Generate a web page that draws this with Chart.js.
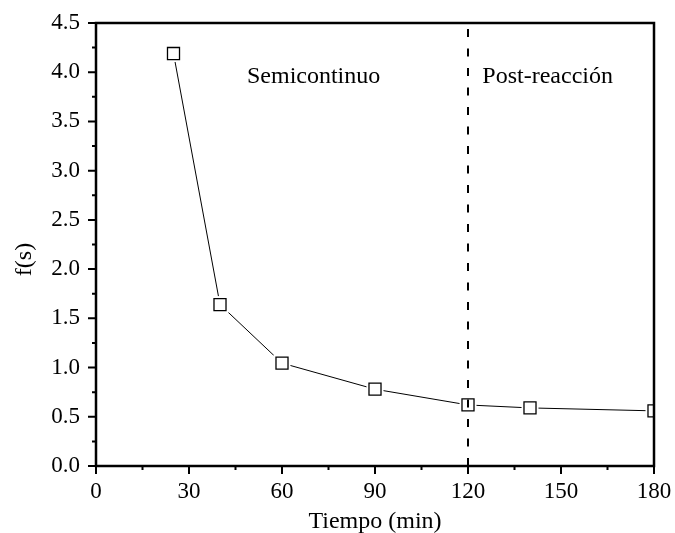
<!DOCTYPE html>
<html>
<head>
<meta charset="utf-8">
<script src="https://cdn.jsdelivr.net/npm/chart.js@4/dist/chart.umd.min.js"></script>
<style>
  html, body { margin: 0; padding: 0; background: #fff; }
  #wrap { width: 675px; height: 533px; }
</style>
</head>
<body>
<div id="wrap"><canvas id="c" width="675" height="533"></canvas></div>
<script>
// ---- data ----
const tiempo = [25, 40, 60, 90, 120, 140, 180];
const fs = [4.19, 1.64, 1.045, 0.78, 0.62, 0.59, 0.56];
const xTicks = [0, 30, 60, 90, 120, 150, 180];
const yTicks = [0, 0.5, 1.0, 1.5, 2.0, 2.5, 3.0, 3.5, 4.0, 4.5];
const dividerX = [120, 120];
const dividerY = [0, 4.5];
const regionLabels = ['Semicontinuo', 'Post-reacción'];
const xTitle = 'Tiempo (min)';
const yTitle = 'f(s)';

const pts = tiempo.map((t, i) => ({ x: t, y: fs[i] }));
const divider = dividerX.map((x, i) => ({ x: x, y: dividerY[i] }));
const FONT = 'Liberation Serif';

const framePlugin = {
  id: 'frame',
  afterDraw(chart) {
    const { ctx, chartArea: a, scales } = chart;
    const xs = scales.x, ys = scales.y;
    ctx.save();
    ctx.strokeStyle = '#000';
    // minor + major ticks
    ctx.lineWidth = 2;
    ctx.beginPath();
    for (let v = 0; v <= 180; v += 15) {
      const px = xs.getPixelForValue(v);
      const len = (v % 30 === 0) ? 8 : 4;
      ctx.moveTo(px, a.bottom); ctx.lineTo(px, a.bottom + len);
    }
    for (let k = 0; k <= 18; k++) {
      const v = k * 0.25;
      const py = ys.getPixelForValue(v);
      const len = (k % 2 === 0) ? 8 : 4;
      ctx.moveTo(a.left, py); ctx.lineTo(a.left - len, py);
    }
    ctx.stroke();
    // frame
    ctx.lineWidth = 2.5;
    ctx.strokeRect(a.left, a.top, a.right - a.left, a.bottom - a.top);
    ctx.fillStyle = '#000';
    ctx.textAlign = 'center';
    ctx.textBaseline = 'middle';
    // region labels
    ctx.font = '24px "' + FONT + '"';
    const lx = [70.2, 145.7];
    regionLabels.forEach((t, i) => {
      ctx.fillText(t, xs.getPixelForValue(lx[i]), ys.getPixelForValue(3.95));
    });
    // axis titles
    ctx.fillText(xTitle, (a.left + a.right) / 2, a.bottom + 56);
    ctx.save();
    ctx.translate(25, (a.top + a.bottom) / 2 + 15);
    ctx.rotate(-Math.PI / 2);
    ctx.fillText(yTitle, 0, 0);
    ctx.restore();
    ctx.restore();
  }
};

new Chart(document.getElementById('c'), {
  type: 'scatter',
  data: {
    datasets: [
      { label: 'divider', data: divider, showLine: true, borderColor: '#000', borderWidth: 2,
        borderDash: [8, 11.5], pointRadius: 0, order: 0 },
      { label: 'marker', data: pts, showLine: false, pointStyle: 'rect', pointRadius: 8.5,
        pointBackgroundColor: '#fff', pointBorderColor: '#000', pointBorderWidth: 1.3, order: 1 },
      { label: 'halo', data: pts, showLine: false, pointStyle: 'rect', pointRadius: 12,
        pointBackgroundColor: '#fff', pointBorderWidth: 0, pointBorderColor: '#fff', order: 2 },
      { label: 'line', data: pts, showLine: true, borderColor: '#000', borderWidth: 1,
        pointRadius: 0, order: 3 }
    ]
  },
  options: {
    responsive: false,
    animation: false,
    events: [],
    layout: { padding: { left: 0, top: 23, right: 21, bottom: 0 } },
    plugins: { legend: { display: false }, tooltip: { enabled: false } },
    scales: {
      x: {
        type: 'linear', min: 0, max: 180,
        afterBuildTicks: s => { s.ticks = xTicks.map(v => ({ value: v })); },
        afterFit: s => { s.height = 67; s.paddingLeft = 0; s.paddingRight = 0; },
        grid: { display: false, drawTicks: false },
        border: { display: false },
        ticks: { color: '#000', font: { family: FONT, size: 23 }, padding: 12, maxRotation: 0 },
        title: { display: false, text: xTitle }
      },
      y: {
        type: 'linear', min: 0, max: 4.5,
        afterBuildTicks: s => { s.ticks = yTicks.map(v => ({ value: v })); },
        afterFit: s => { s.width = 96; s.paddingTop = 0; s.paddingBottom = 0; },
        grid: { display: false, drawTicks: false },
        border: { display: false },
        ticks: { color: '#000', font: { family: FONT, size: 23 }, padding: 16,
                 callback: v => v.toFixed(1) },
        title: { display: false, text: yTitle }
      }
    }
  },
  plugins: [framePlugin]
});
</script>
</body>
</html>
